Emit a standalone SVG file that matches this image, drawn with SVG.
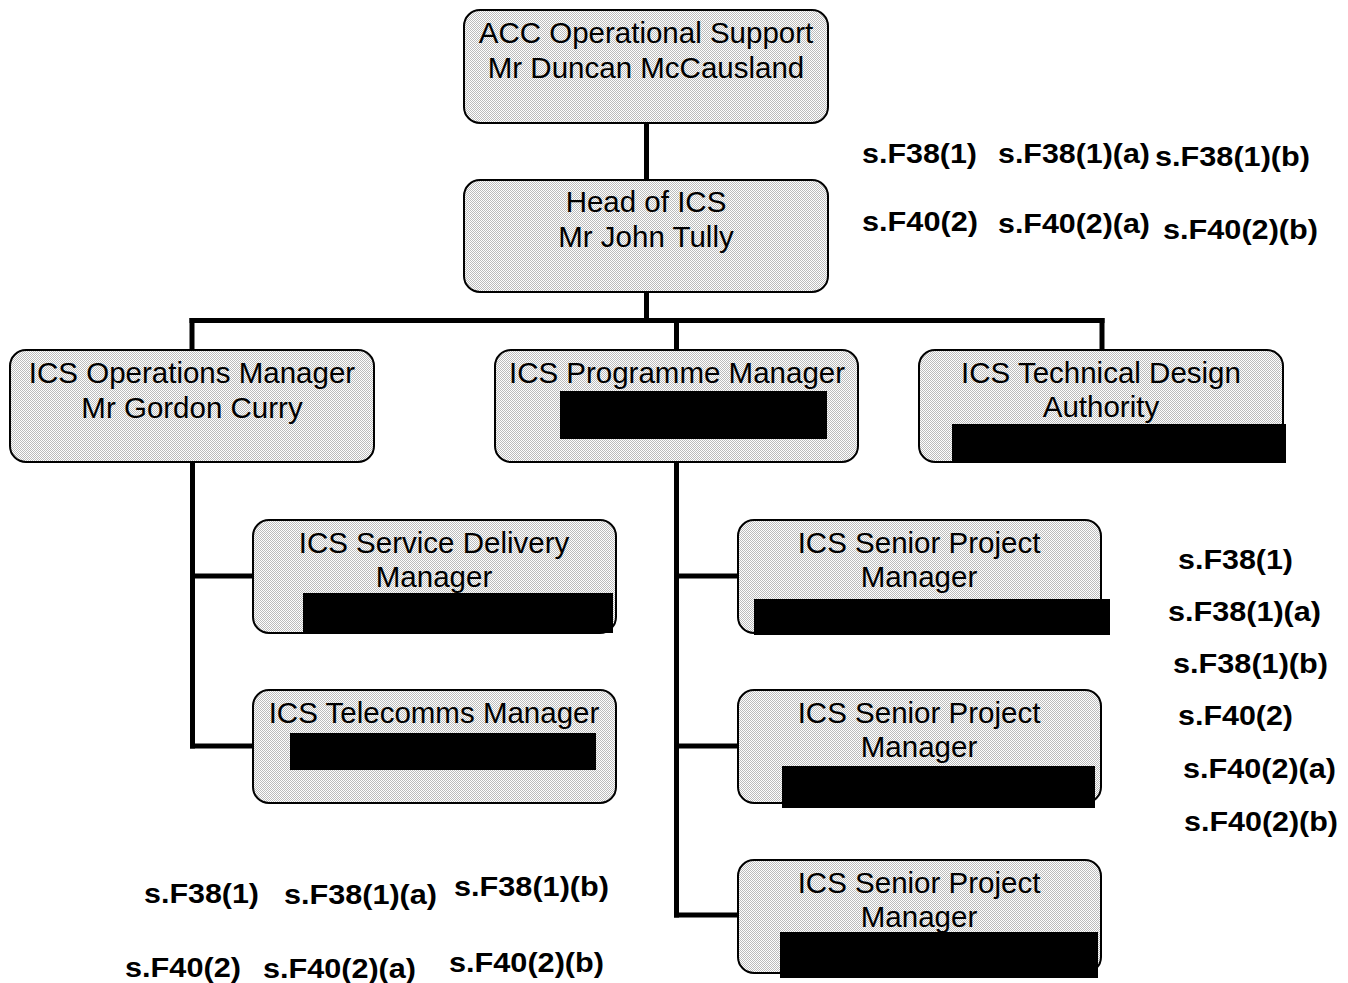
<svg xmlns="http://www.w3.org/2000/svg" width="1348" height="983" viewBox="0 0 1348 983">
<style>
.box{fill:url(#dots);stroke:#000;stroke-width:2}
.t{font-family:"Liberation Sans",Arial,sans-serif;font-size:29.5px;fill:#000;text-anchor:middle}
.lab{font-family:"Liberation Sans",Arial,sans-serif;font-size:28px;font-weight:bold;fill:#000}
.red{fill:#000}
.conn line{stroke:#000;stroke-width:5;stroke-linecap:square}
</style>
<defs>
<pattern id="dots" patternUnits="userSpaceOnUse" width="2" height="2">
<rect width="2" height="2" fill="#ffffff"/>
<rect width="1" height="1" fill="#bcbcbc"/>
<rect x="1" y="1" width="1" height="1" fill="#bcbcbc"/>
</pattern>
</defs>
<rect width="1348" height="983" fill="#fff"/>
<g id="connectors" class="conn">
<line x1="646.5" y1="123" x2="646.5" y2="180"/>
<line x1="646.5" y1="292" x2="646.5" y2="320.5"/>
<line x1="192" y1="320.5" x2="1102" y2="320.5"/>
<line x1="192" y1="320.5" x2="192" y2="350"/>
<line x1="676.5" y1="320.5" x2="676.5" y2="350"/>
<line x1="1102" y1="320.5" x2="1102" y2="350"/>
<line x1="192.5" y1="462" x2="192.5" y2="746"/>
<line x1="192.5" y1="576" x2="253" y2="576"/>
<line x1="192.5" y1="746" x2="253" y2="746"/>
<line x1="676.5" y1="462" x2="676.5" y2="915"/>
<line x1="676.5" y1="576" x2="738" y2="576"/>
<line x1="676.5" y1="746" x2="738" y2="746"/>
<line x1="676.5" y1="915" x2="738" y2="915"/>
</g>
<g id="acc">
<rect class="box" x="464" y="10" width="364" height="113" rx="16"/>
<text class="t" x="646" y="43">ACC Operational Support</text>
<text class="t" x="646" y="78">Mr Duncan McCausland</text>
</g>
<g id="head">
<rect class="box" x="464" y="180" width="364" height="112" rx="16"/>
<text class="t" x="646" y="212">Head of ICS</text>
<text class="t" x="646" y="247">Mr John Tully</text>
</g>
<g id="ops">
<rect class="box" x="10" y="350" width="364" height="112" rx="16"/>
<text class="t" x="192" y="383">ICS Operations Manager</text>
<text class="t" x="192" y="418">Mr Gordon Curry</text>
</g>
<g id="programme">
<rect class="box" x="495" y="350" width="363" height="112" rx="16"/>
<text class="t" x="677" y="383">ICS Programme Manager</text>
<rect class="red" x="560" y="391" width="267" height="48"/>
</g>
<g id="techdesign">
<rect class="box" x="919" y="350" width="364" height="112" rx="16"/>
<text class="t" x="1101" y="383">ICS Technical Design</text>
<text class="t" x="1101" y="417">Authority</text>
<rect class="red" x="952" y="424" width="334" height="39"/>
</g>
<g id="servicedelivery">
<rect class="box" x="253" y="520" width="363" height="113" rx="16"/>
<text class="t" x="434" y="553">ICS Service Delivery</text>
<text class="t" x="434" y="587">Manager</text>
<rect class="red" x="303" y="593" width="310" height="40"/>
</g>
<g id="telecomms">
<rect class="box" x="253" y="690" width="363" height="113" rx="16"/>
<text class="t" x="434" y="723">ICS Telecomms Manager</text>
<rect class="red" x="290" y="733" width="306" height="37"/>
</g>
<g id="spm1">
<rect class="box" x="738" y="520" width="363" height="113" rx="16"/>
<text class="t" x="919" y="553">ICS Senior Project</text>
<text class="t" x="919" y="587">Manager</text>
<rect class="red" x="754" y="599" width="356" height="36"/>
</g>
<g id="spm2">
<rect class="box" x="738" y="690" width="363" height="113" rx="16"/>
<text class="t" x="919" y="723">ICS Senior Project</text>
<text class="t" x="919" y="757">Manager</text>
<rect class="red" x="782" y="766" width="313" height="42"/>
</g>
<g id="spm3">
<rect class="box" x="738" y="860" width="363" height="113" rx="16"/>
<text class="t" x="919" y="893">ICS Senior Project</text>
<text class="t" x="919" y="927">Manager</text>
<rect class="red" x="780" y="932" width="318" height="46"/>
</g>
<g id="labels-top">
<text class="lab" x="862" y="163" textLength="115" lengthAdjust="spacingAndGlyphs">s.F38(1)</text>
<text class="lab" x="998" y="163" textLength="152" lengthAdjust="spacingAndGlyphs">s.F38(1)(a)</text>
<text class="lab" x="1155" y="166" textLength="155" lengthAdjust="spacingAndGlyphs">s.F38(1)(b)</text>
<text class="lab" x="862" y="231" textLength="116" lengthAdjust="spacingAndGlyphs">s.F40(2)</text>
<text class="lab" x="998" y="233" textLength="152" lengthAdjust="spacingAndGlyphs">s.F40(2)(a)</text>
<text class="lab" x="1163" y="239" textLength="155" lengthAdjust="spacingAndGlyphs">s.F40(2)(b)</text>
</g>
<g id="labels-right">
<text class="lab" x="1178" y="569" textLength="115" lengthAdjust="spacingAndGlyphs">s.F38(1)</text>
<text class="lab" x="1168" y="621" textLength="153" lengthAdjust="spacingAndGlyphs">s.F38(1)(a)</text>
<text class="lab" x="1173" y="673" textLength="155" lengthAdjust="spacingAndGlyphs">s.F38(1)(b)</text>
<text class="lab" x="1178" y="725" textLength="115" lengthAdjust="spacingAndGlyphs">s.F40(2)</text>
<text class="lab" x="1183" y="778" textLength="153" lengthAdjust="spacingAndGlyphs">s.F40(2)(a)</text>
<text class="lab" x="1184" y="831" textLength="154" lengthAdjust="spacingAndGlyphs">s.F40(2)(b)</text>
</g>
<g id="labels-bottom">
<text class="lab" x="144" y="903" textLength="115" lengthAdjust="spacingAndGlyphs">s.F38(1)</text>
<text class="lab" x="284" y="904" textLength="153" lengthAdjust="spacingAndGlyphs">s.F38(1)(a)</text>
<text class="lab" x="454" y="896" textLength="155" lengthAdjust="spacingAndGlyphs">s.F38(1)(b)</text>
<text class="lab" x="125" y="977" textLength="116" lengthAdjust="spacingAndGlyphs">s.F40(2)</text>
<text class="lab" x="263" y="978" textLength="153" lengthAdjust="spacingAndGlyphs">s.F40(2)(a)</text>
<text class="lab" x="449" y="972" textLength="155" lengthAdjust="spacingAndGlyphs">s.F40(2)(b)</text>
</g>
</svg>
